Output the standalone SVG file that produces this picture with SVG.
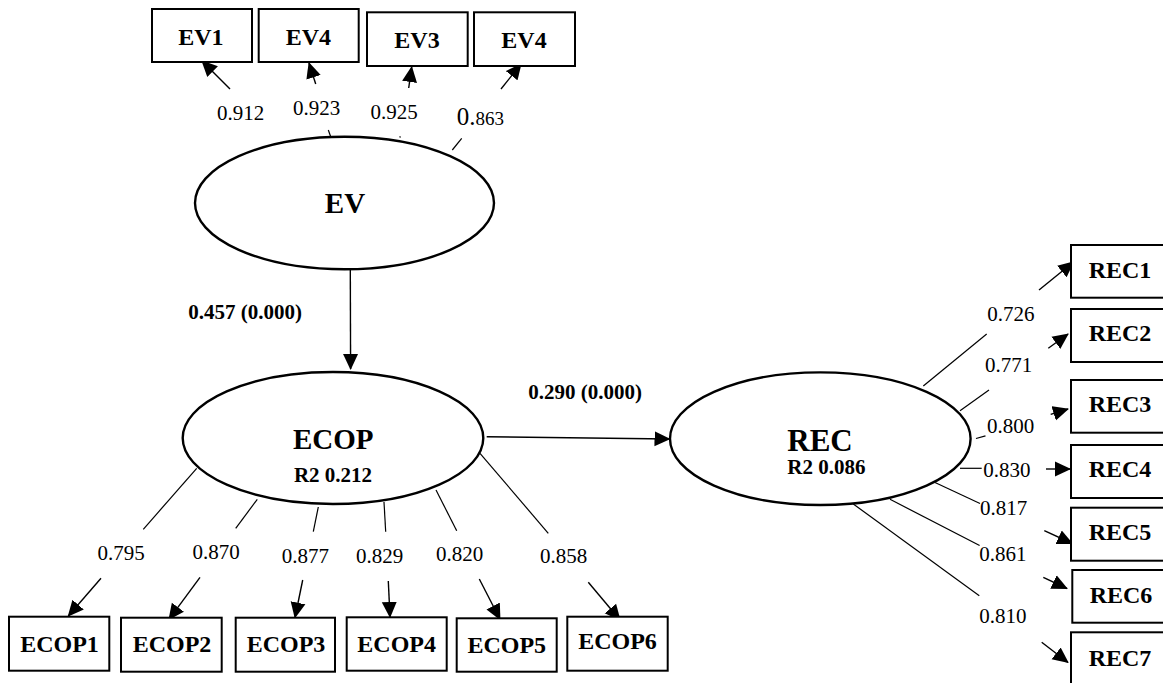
<svg xmlns="http://www.w3.org/2000/svg" width="1163" height="683" viewBox="0 0 1163 683">
<style>
text{font-family:"Liberation Serif","Times New Roman",serif;fill:#000}
.lat{fill:#fff;stroke:#000;stroke-width:2.4}
.box{fill:#fff;stroke:#000;stroke-width:2}
.bl{font-weight:bold;font-size:24px;text-anchor:middle}
.ln{stroke:#000;stroke-width:1.2;fill:none}
.ar{stroke:#000;stroke-width:1.4;fill:none;marker-end:url(#ah)}
.num{font-size:21px}
.mid{text-anchor:middle}
.path{font-weight:bold;font-size:21px}
</style>
<defs>
<marker id="ah" viewBox="0 0 16 16" refX="15" refY="8" markerWidth="16" markerHeight="16" markerUnits="userSpaceOnUse" orient="auto">
<path d="M0,0.5 L16,8 L0,15.5 z" fill="#000"/>
</marker>
</defs>
<rect width="1163" height="683" fill="#fff"/>

<g id="connectors">
<line class="ar" x1="230" y1="89" x2="202" y2="61"/>
<line class="ar" x1="315.7" y1="84" x2="309" y2="63"/>
<line class="ar" x1="408.7" y1="88" x2="411.7" y2="67"/>
<line class="ar" x1="501" y1="89" x2="521" y2="64"/>
<line class="ln" x1="283.3" y1="141.7" x2="286.7" y2="146.7"/>
<line class="ln" x1="328.3" y1="130" x2="330.7" y2="136.7"/>
<line class="ln" x1="399.8" y1="136.3" x2="400.3" y2="137.6"/>
<line class="ln" x1="461.7" y1="138.3" x2="452.3" y2="150"/>
<line class="ar" x1="350.3" y1="269.5" x2="350.6" y2="369"/>
<line class="ar" x1="486.7" y1="436.7" x2="669.5" y2="439"/>
<line class="ln" x1="196.7" y1="468.3" x2="143.3" y2="529.3"/>
<line class="ln" x1="257.3" y1="499.3" x2="235.7" y2="528.3"/>
<line class="ln" x1="318.3" y1="507" x2="313.3" y2="531.7"/>
<line class="ln" x1="384" y1="502" x2="385.7" y2="531.7"/>
<line class="ln" x1="436" y1="490" x2="456.7" y2="530.7"/>
<line class="ln" x1="480" y1="453.3" x2="548.3" y2="533.3"/>
<line class="ar" x1="101" y1="578.3" x2="68.3" y2="616"/>
<line class="ar" x1="200" y1="577.3" x2="169" y2="619.3"/>
<line class="ar" x1="302.7" y1="580" x2="295" y2="617.5"/>
<line class="ar" x1="388.3" y1="581" x2="390" y2="617"/>
<line class="ar" x1="479.3" y1="579" x2="500" y2="619.3"/>
<line class="ar" x1="588.3" y1="582.3" x2="620" y2="620"/>
<line class="ln" x1="923.3" y1="386" x2="986.7" y2="334"/>
<line class="ln" x1="960" y1="410.7" x2="989" y2="390"/>
<line class="ln" x1="976" y1="438.5" x2="985.5" y2="435.8"/>
<line class="ln" x1="960" y1="468.3" x2="981.7" y2="468.3"/>
<line class="ln" x1="935" y1="482.5" x2="980" y2="503.5"/>
<line class="ln" x1="890" y1="499.3" x2="979.6" y2="545.5"/>
<line class="ln" x1="853.3" y1="504" x2="979.3" y2="595.7"/>
<line class="ar" x1="1039" y1="290" x2="1073.5" y2="262"/>
<line class="ar" x1="1048.3" y1="348.3" x2="1068" y2="334"/>
<line class="ar" x1="1050.7" y1="414.3" x2="1068" y2="409"/>
<line class="ar" x1="1046" y1="469" x2="1070" y2="469"/>
<line class="ar" x1="1044.3" y1="530.7" x2="1072.3" y2="543.5"/>
<line class="ar" x1="1043.3" y1="577.3" x2="1067" y2="588.5"/>
<line class="ar" x1="1041.7" y1="642.3" x2="1068" y2="662.5"/>
</g>

<g id="labels">
<text class="num mid" x="240.7" y="120">0.912</text>
<text class="num mid" x="316.7" y="115">0.923</text>
<text class="num mid" x="394" y="119">0.925</text>
<text class="num" x="456.7" y="125"><tspan font-size="25">0.</tspan><tspan font-size="19">863</tspan></text>
<text class="path" x="188.3" y="319.3">0.457 (0.000)</text>
<text class="path" x="528.3" y="399.3">0.290 (0.000)</text>
<text class="num mid" x="121.2" y="560">0.795</text>
<text class="num mid" x="216" y="559">0.870</text>
<text class="num mid" x="305.3" y="563.3">0.877</text>
<text class="num mid" x="379.7" y="562.7">0.829</text>
<text class="num mid" x="459.7" y="560.7">0.820</text>
<text class="num mid" x="563.7" y="562.7">0.858</text>
<text class="num" x="987.3" y="320.7">0.726</text>
<text class="num" x="985" y="371.7">0.771</text>
<text class="num" x="987" y="432.7">0.800</text>
<text class="num" x="983.3" y="476.7">0.830</text>
<text class="num" x="980" y="515">0.817</text>
<text class="num" x="979.3" y="560.7">0.861</text>
<text class="num" x="979.3" y="622.7">0.810</text>
</g>

<g id="EV">
<ellipse class="lat" cx="344.5" cy="203" rx="149.5" ry="66.3"/>
<text x="345" y="213.3" font-size="29" font-weight="bold" text-anchor="middle">EV</text>
</g>
<g id="ECOP">
<ellipse class="lat" cx="333" cy="438" rx="150.3" ry="66"/>
<text x="333.3" y="449" font-size="29" font-weight="bold" text-anchor="middle">ECOP</text>
<text x="333" y="482.3" font-size="21" font-weight="bold" text-anchor="middle">R2 0.212</text>
</g>
<g id="REC">
<ellipse class="lat" cx="820.3" cy="438.7" rx="150.3" ry="66.3"/>
<text x="787.3" y="450.7" font-size="31" font-weight="bold">REC</text>
<text x="787.3" y="474" font-size="21" font-weight="bold">R2 0.086</text>
</g>

<g id="EV1"><rect class="box" x="152" y="9" width="100" height="53"/><text class="bl" x="200.8" y="45">EV1</text></g>
<g id="EV4a"><rect class="box" x="258.7" y="9" width="100" height="53"/><text class="bl" x="308.3" y="45">EV4</text></g>
<g id="EV3"><rect class="box" x="367" y="12.3" width="100.7" height="53.7"/><text class="bl" x="417" y="48.3">EV3</text></g>
<g id="EV4b"><rect class="box" x="474" y="12.3" width="101" height="53.7"/><text class="bl" x="524" y="48.3">EV4</text></g>

<g id="ECOP1"><rect class="box" x="9" y="616.7" width="100.3" height="54"/><text class="bl" x="59.5" y="651.7">ECOP1</text></g>
<g id="ECOP2"><rect class="box" x="121" y="617.7" width="100.7" height="54"/><text class="bl" x="172" y="652">ECOP2</text></g>
<g id="ECOP3"><rect class="box" x="235.7" y="617.7" width="99.3" height="54"/><text class="bl" x="286" y="652">ECOP3</text></g>
<g id="ECOP4"><rect class="box" x="346.7" y="617.3" width="100" height="53.4"/><text class="bl" x="396.7" y="651.7">ECOP4</text></g>
<g id="ECOP5"><rect class="box" x="456.7" y="618.3" width="100" height="53.4"/><text class="bl" x="506.8" y="653">ECOP5</text></g>
<g id="ECOP6"><rect class="box" x="567.3" y="616.7" width="100.4" height="54"/><text class="bl" x="617.5" y="649.3">ECOP6</text></g>

<g id="REC1"><rect class="box" x="1071" y="245" width="100" height="52.7"/><text class="bl" x="1120" y="278.3">REC1</text></g>
<g id="REC2"><rect class="box" x="1071" y="309" width="100" height="53"/><text class="bl" x="1120" y="340.7">REC2</text></g>
<g id="REC3"><rect class="box" x="1071" y="380" width="100" height="52.7"/><text class="bl" x="1120" y="412">REC3</text></g>
<g id="REC4"><rect class="box" x="1071" y="445" width="100" height="53"/><text class="bl" x="1120" y="476.7">REC4</text></g>
<g id="REC5"><rect class="box" x="1071" y="507.7" width="100" height="53"/><text class="bl" x="1120" y="540">REC5</text></g>
<g id="REC6"><rect class="box" x="1072.3" y="570" width="100" height="52.7"/><text class="bl" x="1121" y="602.7">REC6</text></g>
<g id="REC7"><rect class="box" x="1071" y="632.3" width="100" height="60"/><text class="bl" x="1120" y="665.5">REC7</text></g>
</svg>
